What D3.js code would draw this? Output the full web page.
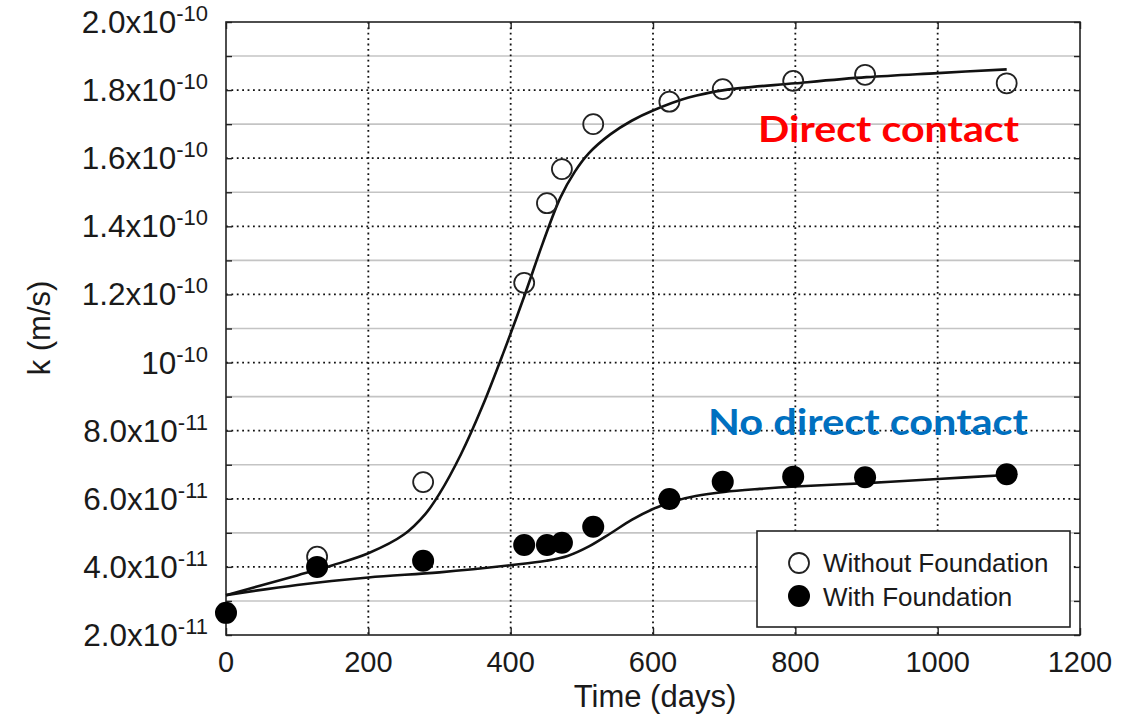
<!DOCTYPE html>
<html>
<head>
<meta charset="utf-8">
<script src="https://cdn.jsdelivr.net/npm/d3@7"></script>
<style>
  html, body { margin: 0; padding: 0; background: #fff; }
  svg { display: block; }
</style>
</head>
<body>
<svg id="chart" width="1148" height="718"></svg>
<script>
// ---- data (k in m/s, time in days) ----
const daysObs = [0, 128, 277, 419, 451, 472, 516, 623, 698, 797, 898, 1097];
const withoutFoundation = [null, 4.30e-11, 6.49e-11, 1.234e-10, 1.468e-10, 1.568e-10, 1.700e-10, 1.766e-10, 1.803e-10, 1.827e-10, 1.845e-10, 1.820e-10];
const withFoundation = [2.65e-11, 4.00e-11, 4.18e-11, 4.64e-11, 4.64e-11, 4.71e-11, 5.18e-11, 5.99e-11, 6.50e-11, 6.65e-11, 6.63e-11, 6.72e-11];

// fitted curves
const fitDaysDirect = [0, 100, 150, 200, 250, 280, 300, 330, 360, 390, 420, 445, 470, 490, 510, 540, 570, 600, 650, 700, 800, 900, 1000, 1097];
const fitDirect = [3.17e-11, 3.75e-11, 4.05e-11, 4.40e-11, 4.95e-11, 5.55e-11, 6.15e-11, 7.3e-11, 8.7e-11, 1.03e-10, 1.20e-10, 1.35e-10, 1.485e-10, 1.56e-10, 1.615e-10, 1.67e-10, 1.71e-10, 1.74e-10, 1.778e-10, 1.80e-10, 1.82e-10, 1.838e-10, 1.85e-10, 1.861e-10];

const fitDaysNoContact = [0, 100, 200, 300, 400, 450, 480, 510, 540, 570, 600, 630, 660, 700, 750, 800, 900, 1000, 1097];
const fitNoContact = [3.17e-11, 3.47e-11, 3.69e-11, 3.84e-11, 4.05e-11, 4.18e-11, 4.32e-11, 4.60e-11, 4.98e-11, 5.38e-11, 5.70e-11, 5.93e-11, 6.08e-11, 6.20e-11, 6.29e-11, 6.36e-11, 6.46e-11, 6.58e-11, 6.70e-11];

const xTicks = [0, 200, 400, 600, 800, 1000, 1200];
const yMajorTicks = [2e-11, 4e-11, 6e-11, 8e-11, 1e-10, 1.2e-10, 1.4e-10, 1.6e-10, 1.8e-10, 2e-10];
const yMinorTicks = [3e-11, 5e-11, 7e-11, 9e-11, 1.1e-10, 1.3e-10, 1.5e-10, 1.7e-10, 1.9e-10];
const yTickMantissa = ["2.0x10", "4.0x10", "6.0x10", "8.0x10", "10", "1.2x10", "1.4x10", "1.6x10", "1.8x10", "2.0x10"];
const yTickExponent = ["-11", "-11", "-11", "-11", "-10", "-10", "-10", "-10", "-10", "-10"];
const legendLabels = ["Without Foundation", "With Foundation"];

// ---- layout ----
const svg = d3.select("#chart");
const L = 226, R = 1080, T = 22, B = 635;
const x = d3.scaleLinear().domain([0, 1200]).range([L, R]);
const y = d3.scaleLinear().domain([2e-11, 2e-10]).range([B, T]);
const font = "'Liberation Sans', Arial, Helvetica, sans-serif";

// minor horizontal grid (solid gray)
svg.append("g").selectAll("line").data(yMinorTicks).join("line")
  .attr("x1", L).attr("x2", R).attr("y1", d => y(d)).attr("y2", d => y(d))
  .attr("stroke", "#c4c4c4").attr("stroke-width", 1.6);

// major horizontal grid (dotted)
svg.append("g").selectAll("line").data(yMajorTicks.slice(1, -1)).join("line")
  .attr("x1", L).attr("x2", R).attr("y1", d => y(d)).attr("y2", d => y(d))
  .attr("stroke", "#111").attr("stroke-width", 1.8).attr("stroke-dasharray", "1.8,3.6");

// vertical grid (dotted)
svg.append("g").selectAll("line").data(xTicks.slice(1, -1)).join("line")
  .attr("y1", T).attr("y2", B).attr("x1", d => x(d)).attr("x2", d => x(d))
  .attr("stroke", "#111").attr("stroke-width", 1.8).attr("stroke-dasharray", "1.8,3.6");

// axes via d3 (ticks inward)
const allY = yMajorTicks.concat(yMinorTicks);
const axB = svg.append("g").attr("transform", `translate(0,${B})`)
  .call(d3.axisBottom(x).tickValues(xTicks).tickSizeInner(-7).tickSizeOuter(0).tickFormat(""));
const axT = svg.append("g").attr("transform", `translate(0,${T})`)
  .call(d3.axisTop(x).tickValues(xTicks).tickSizeInner(-7).tickSizeOuter(0).tickFormat(""));
const axL = svg.append("g").attr("transform", `translate(${L},0)`)
  .call(d3.axisLeft(y).tickValues(allY).tickSizeInner(-6).tickSizeOuter(0).tickFormat(""));
const axR = svg.append("g").attr("transform", `translate(${R},0)`)
  .call(d3.axisRight(y).tickValues(allY).tickSizeInner(-6).tickSizeOuter(0).tickFormat(""));
[axB, axT, axL, axR].forEach(a => {
  a.select(".domain").remove();
  a.selectAll("line").attr("stroke", "#222").attr("stroke-width", 1.4);
});

// frame
svg.append("rect").attr("x", L).attr("y", T).attr("width", R - L).attr("height", B - T)
  .attr("fill", "none").attr("stroke", "#222").attr("stroke-width", 1.6);

// x tick labels
svg.append("g").selectAll("text").data(xTicks).join("text")
  .attr("x", d => x(d)).attr("y", B + 37)
  .attr("text-anchor", "middle").attr("font-family", font).attr("font-size", 29)
  .attr("fill", "#1a1a1a").text(d => d);

// y tick labels with superscripts
const yl = svg.append("g").selectAll("text").data(yMajorTicks).join("text")
  .attr("x", 208).attr("y", d => y(d) + 11)
  .attr("text-anchor", "end").attr("font-family", font).attr("font-size", 31.5)
  .attr("fill", "#1a1a1a");
yl.append("tspan").text((d, i) => yTickMantissa[i]);
yl.append("tspan").attr("dy", -12).attr("font-size", 22).text((d, i) => yTickExponent[i]);

// axis titles
svg.append("text").attr("x", (L + R) / 2 + 2).attr("y", 707)
  .attr("text-anchor", "middle").attr("font-family", font).attr("font-size", 31)
  .attr("fill", "#1a1a1a").text("Time (days)");
svg.append("text").attr("transform", "translate(50,328) rotate(-90)")
  .attr("text-anchor", "middle").attr("font-family", font).attr("font-size", 31)
  .attr("fill", "#1a1a1a").text("k (m/s)");

// fitted curves
const line = d3.line().x(d => x(d[0])).y(d => y(d[1])).curve(d3.curveCatmullRom.alpha(0.5));
svg.append("path").datum(fitDaysDirect.map((d, i) => [d, fitDirect[i]]))
  .attr("d", line).attr("fill", "none").attr("stroke", "#111").attr("stroke-width", 2.6);
svg.append("path").datum(fitDaysNoContact.map((d, i) => [d, fitNoContact[i]]))
  .attr("d", line).attr("fill", "none").attr("stroke", "#111").attr("stroke-width", 2.6);

// markers
const openPts = daysObs.map((d, i) => [d, withoutFoundation[i]]).filter(p => p[1] != null);
const fillPts = daysObs.map((d, i) => [d, withFoundation[i]]);
svg.append("g").selectAll("circle").data(openPts).join("circle")
  .attr("cx", d => x(d[0])).attr("cy", d => y(d[1])).attr("r", 10)
  .attr("fill", "none").attr("stroke", "#222").attr("stroke-width", 1.8);
svg.append("g").selectAll("circle").data(fillPts).join("circle")
  .attr("cx", d => x(d[0])).attr("cy", d => y(d[1])).attr("r", 11)
  .attr("fill", "#000");

// annotations
svg.append("text").attr("x", 758).attr("y", 142)
  .attr("font-family", "Lato, 'Open Sans', sans-serif").attr("font-weight", "bold")
  .attr("font-size", 37).attr("fill", "#ff0000")
  .attr("textLength", 261).attr("lengthAdjust", "spacingAndGlyphs")
  .text("Direct contact");
svg.append("text").attr("x", 708).attr("y", 435)
  .attr("font-family", "Lato, 'Open Sans', sans-serif").attr("font-weight", "bold")
  .attr("font-size", 37).attr("fill", "#0070c0")
  .attr("textLength", 320).attr("lengthAdjust", "spacingAndGlyphs")
  .text("No direct contact");

// legend
const lg = svg.append("g");
lg.append("rect").attr("x", 757).attr("y", 531).attr("width", 313).attr("height", 96)
  .attr("fill", "#fff").attr("stroke", "#222").attr("stroke-width", 1.6);
lg.append("circle").attr("cx", 799).attr("cy", 563).attr("r", 10)
  .attr("fill", "#fff").attr("stroke", "#222").attr("stroke-width", 1.8);
lg.append("circle").attr("cx", 799).attr("cy", 596).attr("r", 11).attr("fill", "#000");
lg.selectAll("text").data(legendLabels).join("text")
  .attr("x", 823).attr("y", (d, i) => 572 + i * 34)
  .attr("font-family", font).attr("font-size", 26).attr("fill", "#1a1a1a")
  .text(d => d);
</script>
</body>
</html>
